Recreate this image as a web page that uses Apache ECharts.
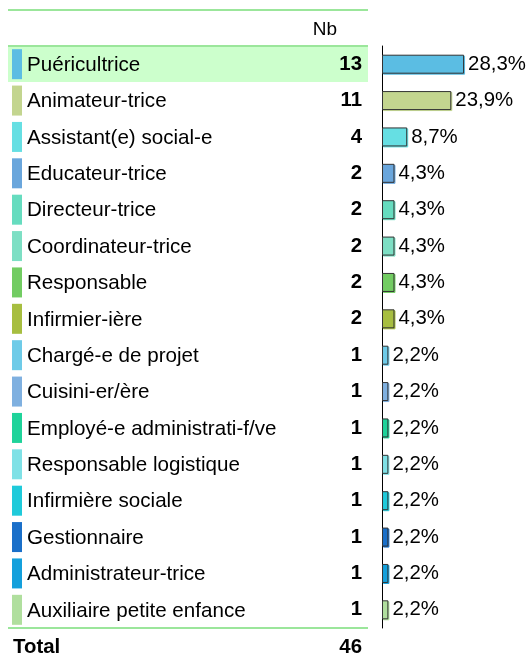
<!DOCTYPE html>
<html>
<head>
<meta charset="utf-8">
<script src="https://cdn.jsdelivr.net/npm/echarts@6/dist/echarts.min.js"></script>
<style>
  html, body { margin: 0; padding: 0; background: #fff; }
  #chart { width: 529px; height: 655px; }
</style>
</head>
<body>
<div id="chart"></div>
<script>
// données
const categories = [
  'Puéricultrice', 'Animateur-trice', 'Assistant(e) social-e', 'Educateur-trice',
  'Directeur-trice', 'Coordinateur-trice', 'Responsable', 'Infirmier-ière',
  'Chargé-e de projet', 'Cuisini-er/ère', 'Employé-e administrati-f/ve',
  'Responsable logistique', 'Infirmière sociale', 'Gestionnaire',
  'Administrateur-trice', 'Auxiliaire petite enfance'
];
const counts = [13, 11, 4, 2, 2, 2, 2, 2, 1, 1, 1, 1, 1, 1, 1, 1];
const percents = [28.3, 23.9, 8.7, 4.3, 4.3, 4.3, 4.3, 4.3, 2.2, 2.2, 2.2, 2.2, 2.2, 2.2, 2.2, 2.2];
const colors = [
  '#5bbde3', '#c3d58f', '#66dfe3', '#6aa6dc', '#66dcbf', '#7ddfc4', '#72cc62', '#a7be40',
  '#6ecbe8', '#7fb0e0', '#1fd39a', '#7fe1e6', '#1fcada', '#1a6fc9', '#14a0dc', '#b0df9e'
];
const headerLabel = 'Nb';
const totalLabel = 'Total';

const font = 'Arial, "Liberation Sans", sans-serif';
const lineGreen = '#9be69b';
const total = counts.reduce((a, b) => a + b, 0);

// pastilles de couleur devant chaque libellé
const rich = {
  gap: { width: 5 },
  name: { fontSize: 20.6, color: '#000', fontFamily: font, padding: [2, 0, 0, 0] }
};
colors.forEach((c, i) => {
  rich['sw' + i] = { width: 10, height: 30, backgroundColor: c };
});

const myChart = echarts.init(document.getElementById('chart'));
myChart.setOption({
  animation: false,
  graphic: [
    { type: 'line', shape: { x1: 8, y1: 10, x2: 368, y2: 10 }, style: { stroke: lineGreen, lineWidth: 2 }, z: 0 },
    { type: 'rect', shape: { x: 8, y: 46, width: 360, height: 36 }, style: { fill: '#ccffcc' }, z: -1 },
    { type: 'line', shape: { x1: 8, y1: 46, x2: 368, y2: 46 }, style: { stroke: lineGreen, lineWidth: 2 }, z: 0 },
    { type: 'line', shape: { x1: 8, y1: 628, x2: 368, y2: 628 }, style: { stroke: lineGreen, lineWidth: 2 }, z: 0 },
    { type: 'text', x: 337, y: 30, style: { text: headerLabel, font: '19px ' + font, fill: '#000', textAlign: 'right', textVerticalAlign: 'middle' } },
    { type: 'text', x: 13, y: 647, style: { text: totalLabel, font: 'bold 20.4px ' + font, fill: '#000', textAlign: 'left', textVerticalAlign: 'middle' } },
    { type: 'text', x: 362, y: 647, style: { text: String(total), font: 'bold 20.4px ' + font, fill: '#000', textAlign: 'right', textVerticalAlign: 'middle' } }
  ],
  grid: { left: 382, top: 46, width: 145, height: 582 },
  xAxis: {
    type: 'value',
    min: 0,
    max: 50,
    show: false
  },
  yAxis: [
    {
      type: 'category',
      inverse: true,
      data: categories,
      axisLine: { show: true, lineStyle: { color: '#000', width: 1 } },
      axisTick: { show: false },
      axisLabel: {
        margin: 370,
        align: 'left',
        formatter: function (value, index) {
          return '{sw' + index + '| }{gap| }{name|' + value + '}';
        },
        rich: rich
      }
    },
    {
      type: 'category',
      inverse: true,
      position: 'left',
      data: categories,
      axisLine: { show: false },
      axisTick: { show: false },
      axisLabel: {
        margin: 20,
        align: 'right',
        fontSize: 20.4,
        fontWeight: 'bold',
        color: '#000',
        fontFamily: font,
        padding: [2, 0, 0, 0],
        formatter: function (value, index) {
          return String(counts[index]);
        }
      }
    }
  ],
  series: [
    {
      type: 'bar',
      yAxisIndex: 0,
      barWidth: 19,
      data: percents.map((v, i) => ({
        value: v,
        itemStyle: {
          color: colors[i],
          borderColor: '#333',
          borderWidth: 1,
          shadowColor: colors[i],
          shadowOffsetX: 1,
          shadowOffsetY: 1,
          shadowBlur: 0
        }
      })),
      label: {
        show: true,
        position: 'right',
        distance: 4,
        color: '#000',
        fontSize: 20.4,
        fontFamily: font,
        padding: [2, 0, 0, 0],
        formatter: function (p) {
          return p.value.toFixed(1).replace('.', ',') + '%';
        }
      }
    }
  ]
});
window.onresize = function () {
  myChart.resize();
};
</script>
</body>
</html>
